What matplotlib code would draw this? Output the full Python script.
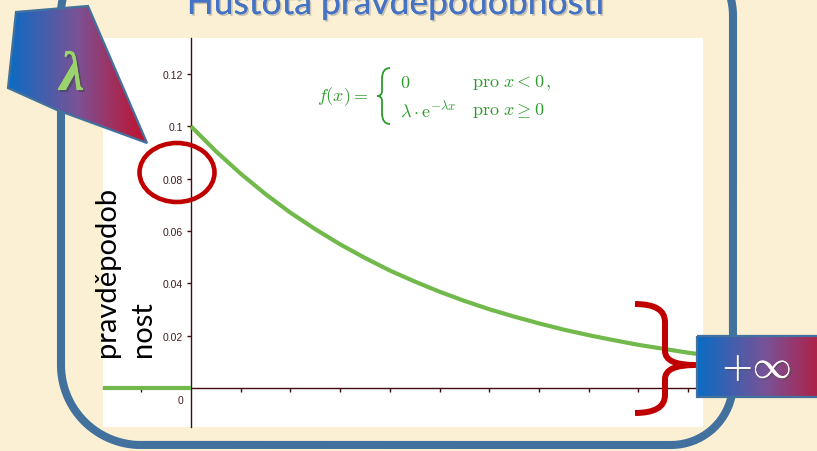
import numpy as np
import matplotlib
matplotlib.use("Agg")
import matplotlib.pyplot as plt
from matplotlib.patches import Polygon, Ellipse, Rectangle, PathPatch
from matplotlib.path import Path
from matplotlib.colors import LinearSegmentedColormap
import matplotlib.patheffects as pe

plt.rcParams['mathtext.fontset'] = 'cm'

# ---- data ----
x_pos = [0, 1, 2, 3, 4, 5, 6, 7, 8, 9, 10, 11, 12, 13, 14, 15, 16, 17, 18, 19, 20, 21]
density = [0.1000, 0.0905, 0.0819, 0.0741, 0.0670, 0.0607, 0.0549, 0.0497, 0.0449,
           0.0407, 0.0368, 0.0333, 0.0301, 0.0273, 0.0247, 0.0223, 0.0202, 0.0183,
           0.0165, 0.0150, 0.0135, 0.0122]
x_neg = [-4, 0]
density_neg = [0, 0]
y_ticks = [0.02, 0.04, 0.06, 0.08, 0.1, 0.12]
y_tick_labels = ["0.02", "0.04", "0.06", "0.08", "0.1", "0.12"]
x_ticks = [-2, 2, 4, 6, 8, 10, 12, 14, 16, 18, 20]
title = "Hustota pravděpodobnosti"
ylabel = "pravděpodob\nnost"

W, H = 817, 452
fig = plt.figure(figsize=(W / 100, H / 100), dpi=100)
fig.patch.set_facecolor("#fbefd4")

FRAME = "#41719c"
CURVE = "#72b94c"
AXC = "#3f0d0d"
RED = "#c00000"
TXTG = "#2e9a2e"
grad_cmap = LinearSegmentedColormap.from_list("br", ["#0a6cc4", "#7a5296", "#c2102c"])

# background (pixel coordinates)
bg = fig.add_axes([0, 0, 1, 1], zorder=0)
bg.set_xlim(0, W); bg.set_ylim(H, 0); bg.axis("off")


def rounded_rect(x0, y0, x1, y1, r_tl, r_tr, r_br, r_bl, n=40):
    pts = []
    for (cx, cy, r, t0, t1) in [(x0 + r_tl, y0 + r_tl, r_tl, np.pi, 1.5 * np.pi),
                                (x1 - r_tr, y0 + r_tr, r_tr, 1.5 * np.pi, 2 * np.pi),
                                (x1 - r_br, y1 - r_br, r_br, 0, 0.5 * np.pi),
                                (x0 + r_bl, y1 - r_bl, r_bl, 0.5 * np.pi, np.pi)]:
        t = np.linspace(t0, t1, n)
        pts += list(zip(cx + r * np.cos(t), cy + r * np.sin(t)))
    pts.append(pts[0])
    return np.array(pts)

fr = rounded_rect(61, -55, 733, 446, 70, 72, 62, 80)
bg.plot(fr[:, 0], fr[:, 1], color=FRAME, lw=5.8, solid_joinstyle="round")

bg.text(395, 15, title, ha="center", va="baseline", fontsize=25.5, color="#4472c4",
        family="Lato",
        path_effects=[pe.withSimplePatchShadow(offset=(1.2, -1.2), alpha=0.22), pe.Normal()])

# chart axes
ax = fig.add_axes([103 / W, 1 - 428 / H, 600 / W, 389 / H], zorder=1)
ax.set_facecolor("white")
ax.plot(x_pos, density, color=CURVE, lw=3.0, solid_capstyle="butt", zorder=3)
ax.plot(x_neg, density_neg, color=CURVE, lw=3.0, solid_capstyle="butt", zorder=3)
ax.set_xlim(-3.54, 20.6)
ax.set_ylim(-0.0149, 0.13376)
for s in ["top", "right"]:
    ax.spines[s].set_visible(False)
ax.spines["left"].set_position(("data", 0))
ax.spines["bottom"].set_position(("data", 0))
for s in ["left", "bottom"]:
    ax.spines[s].set_color(AXC)
    ax.spines[s].set_linewidth(1.0)
ax.set_yticks(y_ticks)
ax.set_yticklabels(y_tick_labels)
ax.set_xticks(x_ticks)
ax.set_xticklabels([])
ax.tick_params(axis="y", direction="out", length=3, width=1, color=AXC, labelcolor="#3c1f1f",
               labelsize=7.5, pad=3)
ax.tick_params(axis="x", direction="out", length=3, width=1, color=AXC)
for lab in ax.get_yticklabels():
    lab.set_family("Liberation Sans")
ax.annotate("0", xy=(0, 0), xytext=(-7.5, -8.5), textcoords="offset points", ha="center",
            va="center", fontsize=7.5, color="#3c1f1f", family="Liberation Sans")

# overlay (pixel coordinates)
ov = fig.add_axes([0, 0, 1, 1], zorder=2)
ov.patch.set_alpha(0)
ov.axis("off")
grad = np.linspace(0, 1, 256)[None, :]

# lambda callout
pent = Polygon([(16, 13), (88, 7), (147, 144), (57, 111), (8, 89)], closed=True,
               facecolor="none", edgecolor=FRAME, lw=1.6, zorder=5)
ov.add_patch(pent)
im = ov.imshow(grad, extent=(8, 147, 144, 7), cmap=grad_cmap, aspect="auto", zorder=4)
im.set_clip_path(pent)
ov.text(72, 77, "λ", ha="center", va="center", fontsize=40, color="#9bd36e",
        family="Liberation Serif", style="italic", weight="bold", zorder=6,
        path_effects=[pe.withSimplePatchShadow(offset=(1.5, -1.5), alpha=0.4), pe.Normal()])

# red ellipse
ov.add_patch(Ellipse((177, 173.5), 75, 59, facecolor="none", edgecolor=RED, lw=3.3, zorder=6))

# red brace
x0, xm, xt = 635, 665, 695
yt, ymd, yb = 305, 366, 414
br = Path([(x0, yt), (xm, yt), (xm, yt + 18), (xm, ymd - 14), (xm, ymd), (xt, ymd),
           (xm, ymd), (xm, ymd + 14), (xm, yb - 18), (xm, yb), (x0, yb)],
          [Path.MOVETO, Path.CURVE3, Path.CURVE3, Path.LINETO, Path.CURVE3, Path.CURVE3,
           Path.CURVE3, Path.CURVE3, Path.LINETO, Path.CURVE3, Path.CURVE3])
ov.add_patch(PathPatch(br, facecolor="none", edgecolor=RED, lw=4.3, zorder=6,
                       capstyle="butt", joinstyle="round"))

# +inf box
box = Rectangle((697, 337), 140, 61, facecolor="none", edgecolor=FRAME, lw=1.6, zorder=8)
ov.add_patch(box)
im2 = ov.imshow(grad, extent=(697, 837, 398, 337), cmap=grad_cmap, aspect="auto", zorder=7)
im2.set_clip_path(box)
ov.text(757, 368, r"$+\infty$", ha="center", va="center", fontsize=28, color="white", zorder=9,
        path_effects=[pe.withSimplePatchShadow(offset=(1.2, -1.2), alpha=0.5), pe.Normal()])

# formula
ov.text(317, 97, r"$f(x) =$", ha="left", va="center", fontsize=13, color=TXTG, zorder=6)
gb = Path([(390, 69), (382, 69), (382, 80), (382, 92), (382, 97), (377, 97),
           (382, 97), (382, 102), (382, 114), (382, 125), (390, 125)],
          [Path.MOVETO, Path.CURVE3, Path.CURVE3, Path.LINETO, Path.CURVE3, Path.CURVE3,
           Path.CURVE3, Path.CURVE3, Path.LINETO, Path.CURVE3, Path.CURVE3])
ov.add_patch(PathPatch(gb, facecolor="none", edgecolor=TXTG, lw=1.3, zorder=6))
ov.text(400, 83, r"$0$", ha="left", va="center", fontsize=13, color=TXTG)
ov.text(472, 83, r"$\mathrm{pro}\ x < 0\,,$", ha="left", va="center", fontsize=13, color=TXTG)
ov.text(400, 111, r"$\lambda\cdot\mathrm{e}^{-\lambda x}$", ha="left", va="center", fontsize=13, color=TXTG)
ov.text(472, 111, r"$\mathrm{pro}\ x \geq 0$", ha="left", va="center", fontsize=13, color=TXTG)

# y label
ov.text(125, 357, ylabel, rotation=90, ha="center", va="bottom", multialignment="left",
        fontsize=21, color="black", family="Lato", linespacing=1.5, zorder=6)

ov.set_xlim(0, W); ov.set_ylim(H, 0)

fig.savefig("out.png", dpi=100, facecolor=fig.get_facecolor())
